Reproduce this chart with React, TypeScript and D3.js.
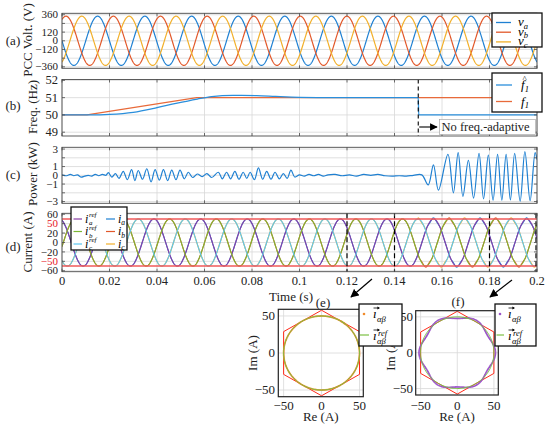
import React from "react";
import * as d3 from "d3";

const SERIF = '"Liberation Serif", "DejaVu Serif", serif';

// ---------------- time axis ----------------
const timeTicks = [0, 0.02, 0.04, 0.06, 0.08, 0.1, 0.12, 0.14, 0.16, 0.18, 0.2];
const timeTickLabels = ["0", "0.02", "0.04", "0.06", "0.08", "0.1", "0.12", "0.14", "0.16", "0.18", "0.2"];

// ---------------- (a) PCC voltage ----------------
const voltGrid = [-360, -240, -120, 0, 120, 240, 360];
const voltTicks = [360, 120, 0, -120, -360];
const voltTickLabels = ["360", "120", "0", "\u2212120", "\u2212360"];
const voltNames = ["a", "b", "c"];
const voltColors = ["#1f80d2", "#e2582a", "#f2b02b"];
const voltPhaseDeg = [90, -30, 210];
const voltAmplitude = [340, 340, 340];

// ---------------- (b) frequency ----------------
const freqTicks = [52, 51, 50, 49];
const freqTickLabels = ["52", "51", "50", "49"];
const f1Times = [0, 0.0105, 0.0567, 0.2];
const f1Values = [50, 50, 51, 51];
const fHatTimes = [0, 0.012, 0.02, 0.03, 0.04, 0.048, 0.057, 0.063, 0.072, 0.082, 0.09, 0.1, 0.115, 0.15, 0.1502, 0.2];
const fHatValues = [50, 50, 50.03, 50.15, 50.42, 50.67, 50.92, 51.06, 51.13, 51.12, 51.07, 51.02, 51.0, 51.0, 50.0, 50.0];
const freqSwitchTime = 0.15;
const fHatColor = "#2a8fdc";
const f1Color = "#e86a3a";

// ---------------- (c) power ----------------
const powerGrid = [-3, -2, -1, 0, 1, 2, 3];
const powerTicks = [3, 1, 0, -1, -3];
const powerTickLabels = ["3", "1", "0", "\u22121", "\u22123"];
const powerTimes = [
  0, 0.002, 0.0035, 0.005, 0.0065, 0.008, 0.0095, 0.011, 0.0125, 0.014, 0.0155, 0.017, 0.0185,
  0.0195, 0.021, 0.0225, 0.024, 0.0258, 0.0275, 0.0293, 0.0307, 0.0321, 0.0339, 0.0357, 0.0375,
  0.0392, 0.041, 0.0427, 0.0445, 0.0462, 0.048, 0.0497, 0.0515, 0.0532, 0.055,
  0.057, 0.059, 0.061, 0.063, 0.0658, 0.0675, 0.0693, 0.071, 0.0728, 0.0745, 0.0763, 0.0778,
  0.0792, 0.081, 0.0827, 0.0845, 0.0862, 0.088, 0.0897, 0.0915, 0.0932, 0.0948, 0.0964, 0.098,
  0.1, 0.102, 0.104, 0.106, 0.108, 0.11, 0.112, 0.115, 0.118, 0.121, 0.124, 0.127, 0.13, 0.133,
  0.136, 0.139, 0.142, 0.145, 0.148, 0.1515,
  0.1542, 0.1564, 0.1585, 0.1625, 0.1648, 0.1668, 0.1688, 0.1711, 0.1733, 0.1756, 0.1775, 0.1795,
  0.1815, 0.1834, 0.1852, 0.187, 0.1888, 0.1906, 0.1929, 0.1949, 0.1971, 0.1992, 0.2,
];
const powerValues = [
  0.05, -0.05, 0.1, -0.05, 0.05, -0.2, -0.1, 0.0, -0.1, 0.1, -0.05, 0.1, 0.0,
  0.3, -0.2, 0.2, -0.35, 0.45, -0.5, 0.65, -0.6, 0.55, -0.45, 0.75, -0.75,
  0.65, -0.55, 0.65, -0.6, 0.6, -0.5, 0.6, -0.4, 0.35, -0.25,
  0.15, -0.15, 0.2, -0.25, 0.35, -0.4, 0.35, -0.4, 0.45, -0.45, 0.35, -0.35,
  0.35, -0.5, 0.85, -0.45, 0.45, -0.45, 0.35, -0.4, 0.2, -0.35, 0.6, -0.2,
  0.05, -0.1, 0.1, -0.05, 0.1, -0.1, 0.05, 0.1, -0.05, 0.05, -0.1, 0.1, 0.0, 0.1,
  -0.05, -0.1, -0.05, -0.1, 0.0, 0.05,
  -1.1, 1.2, -1.7, 2.4, -2.0, 2.6, -2.4, 1.7, -2.6, 2.5, -2.7, 2.3,
  -2.85, 2.4, -2.85, 2.4, -2.8, 2.5, -2.95, 2.7, -2.9, 2.6, 1.8,
];
const powerColor = "#1f80d2";

// ---------------- (d) currents ----------------
const currentGrid = [-60, -40, -20, 0, 20, 40, 60];
const currentTickLabels = ["\u221260", "\u221250", "\u221220", "0", "20", "50", "60"];
const currentTickRed = [false, true, false, false, false, true, false];
const currentLimits = [50, -50];
const iRefNames = ["a", "b", "c"];
const iRefColors = ["#8a3ea6", "#7cb733", "#5cc6f0"];
const iActColors = ["#1f80d2", "#e2582a", "#f2b02b"];
const iRefPhaseDeg = 20;
const iRefAmplitude = 50;
const iRippleStart = 0.15;
const iRippleAmp = 2.2;
const iRippleHarmonic = 6;
const snapshotWindows = [[0.12, 0.14], [0.18, 0.2]];
const markerTimes = [0.12, 0.14, 0.18, 0.2];
const complexTicks = [-50, 0, 50];
const complexTickLabels = ["\u221250", "0", "50"];
const hexLimit = 50;

// ---------------- computations ----------------
const DT = 0.0001;
const tSamples = d3.range(0, Math.round(0.2 / DT) + 1).map((i) => i * DT);
const f1At = d3.scaleLinear().domain(f1Times).range(f1Values).clamp(true);
const theta: number[] = [];
{
  let acc = 0;
  tSamples.forEach((t, i) => {
    if (i > 0) acc += 2 * Math.PI * DT * (f1At(t - DT) + f1At(t)) / 2;
    theta.push(acc);
  });
}
const rad = (d: number) => (d * Math.PI) / 180;

const voltSeries = voltPhaseDeg.map((ph, k) =>
  tSamples.map((t, i) => [t, voltAmplitude[k] * Math.cos(theta[i] + rad(ph))] as [number, number])
);

const S3 = Math.sqrt(3) / 2;
const refAB = tSamples.map((t, i) => {
  const p = theta[i] + rad(iRefPhaseDeg);
  return { t, p, a: iRefAmplitude * Math.cos(p), b: iRefAmplitude * Math.sin(p) };
});
const actAB = refAB.map(({ t, p }) => {
  const r = iRefAmplitude + (t >= iRippleStart ? iRippleAmp * Math.cos(iRippleHarmonic * p) : 0);
  return { t, a: r * Math.cos(p), b: r * Math.sin(p) };
});
const toABC = (al: number, be: number) => [al, -al / 2 + S3 * be, -al / 2 - S3 * be];
const iRefSeries = [0, 1, 2].map((k) => refAB.map((d) => [d.t, toABC(d.a, d.b)[k]] as [number, number]));
const iActSeries = [0, 1, 2].map((k) => actAB.map((d) => [d.t, toABC(d.a, d.b)[k]] as [number, number]));

const inWin = (t: number, w: number[]) => t >= w[0] - 1e-9 && t <= w[1] + 1e-9;
const snapAct = snapshotWindows.map((w) => actAB.filter((d) => inWin(d.t, w)));
const snapRef = snapshotWindows.map((w) => refAB.filter((d) => inWin(d.t, w)));
const hexPts: [number, number][] = [0, 1, 2, 3, 4, 5].map((k) => {
  const ang = rad(30 + 60 * k);
  const R = hexLimit / Math.cos(rad(30));
  return [R * Math.cos(ang), R * Math.sin(ang)];
});

// ---------------- layout ----------------
const X0 = 62, X1 = 537;
const xS = d3.scaleLinear().domain([0, 0.2]).range([X0, X1]);
const panels = {
  a: { y0: 13.3, y1: 68.3, y: d3.scaleLinear().domain([-380, 380]).range([68.3, 13.3]) },
  b: { y0: 79.5, y1: 136, y: d3.scaleLinear().domain([48.78, 52.05]).range([136, 79.5]) },
  c: { y0: 147.3, y1: 203.3, y: d3.scaleLinear().domain([-3.2, 3.2]).range([203.3, 147.3]) },
  d: { y0: 213.3, y1: 271.7, y: d3.scaleLinear().domain([-62, 62]).range([271.7, 213.3]) },
};
const GRID = "#d8d8d8";
const AX = "#4a4a4a";
const serifStyle = { fontFamily: SERIF };

function PanelBase({ p, grid, id }: { p: any; grid: number[]; id: string }) {
  return (
    <g>
      <clipPath id={id}>
        <rect x={X0} y={p.y0} width={X1 - X0} height={p.y1 - p.y0} />
      </clipPath>
      <rect x={X0} y={p.y0} width={X1 - X0} height={p.y1 - p.y0} fill="#fff" />
      {timeTicks.map((t) => (
        <line key={"v" + t} x1={xS(t)} x2={xS(t)} y1={p.y0} y2={p.y1} stroke={GRID} strokeWidth={0.8} />
      ))}
      {grid.map((v) => (
        <line key={"h" + v} x1={X0} x2={X1} y1={p.y(v)} y2={p.y(v)} stroke={GRID} strokeWidth={0.8} />
      ))}
    </g>
  );
}

function PanelFrame({ p, grid }: { p: any; grid: number[] }) {
  return (
    <g>
      <rect x={X0} y={p.y0} width={X1 - X0} height={p.y1 - p.y0} fill="none" stroke={AX} strokeWidth={0.9} />
      {grid.map((v) => (
        <g key={v}>
          <line x1={X0} x2={X0 + 3} y1={p.y(v)} y2={p.y(v)} stroke={AX} strokeWidth={0.8} />
          <line x1={X1} x2={X1 - 3} y1={p.y(v)} y2={p.y(v)} stroke={AX} strokeWidth={0.8} />
        </g>
      ))}
      {timeTicks.map((t) => (
        <g key={"t" + t}>
          <line x1={xS(t)} x2={xS(t)} y1={p.y1} y2={p.y1 - 3} stroke={AX} strokeWidth={0.8} />
          <line x1={xS(t)} x2={xS(t)} y1={p.y0} y2={p.y0 + 3} stroke={AX} strokeWidth={0.8} />
        </g>
      ))}
    </g>
  );
}

function YLabels({ p, vals, labels, colors, size = 12.5 }: { p: any; vals: number[]; labels: string[]; colors?: string[]; size?: number }) {
  return (
    <g style={serifStyle} fontSize={size} textAnchor="end">
      {vals.map((v, i) => (
        <text key={i} x={58} y={p.y(v)} dy="0.33em" fill={colors ? colors[i] : "#222"}>
          {labels[i]}
        </text>
      ))}
    </g>
  );
}

function VecI({ x, y, sup, size = 13 }: { x: number; y: number; sup?: boolean; size?: number }) {
  return (
    <g style={serifStyle} fontStyle="italic">
      <text x={x} y={y} fontSize={size}>{"\u0131"}</text>
      <path d={`M${x + 0.5},${y - 10} L${x + 6},${y - 10}`} stroke="#000" strokeWidth={0.8} />
      <path d={`M${x + 7},${y - 10} l-2.6,-1.6 v3.2 z`} fill="#000" />
      <text x={x + 4} y={y + 3.5} fontSize={size * 0.66}>{"\u03b1\u03b2"}</text>
      {sup && <text x={x + 5} y={y - 4.5} fontSize={size * 0.66}>ref</text>}
    </g>
  );
}

function ComplexPanel({
  box, win, dotColor, idx, tickLabelX,
}: { box: any; win: number; dotColor: string; idx: number; tickLabelX: number }) {
  const xs = d3.scaleLinear().domain(box.xd).range([box.x0, box.x1]);
  const ys = d3.scaleLinear().domain(box.yd).range([box.y1, box.y0]);
  const circ = d3.line<any>().x((d) => xs(d.a)).y((d) => ys(d.b));
  const hex = d3.line<[number, number]>().x((d) => xs(d[0])).y((d) => ys(d[1]));
  const cid = "clipZ" + idx;
  return (
    <g>
      <clipPath id={cid}>
        <rect x={box.x0} y={box.y0} width={box.x1 - box.x0} height={box.y1 - box.y0} />
      </clipPath>
      <rect x={box.x0} y={box.y0} width={box.x1 - box.x0} height={box.y1 - box.y0} fill="#fff" />
      {complexTicks.map((v) => (
        <g key={v}>
          <line x1={xs(v)} x2={xs(v)} y1={box.y0} y2={box.y1} stroke={GRID} strokeWidth={0.8} />
          <line x1={box.x0} x2={box.x1} y1={ys(v)} y2={ys(v)} stroke={GRID} strokeWidth={0.8} />
        </g>
      ))}
      <g clipPath={`url(#${cid})`}>
        <path d={hex([...hexPts, hexPts[0]]) || ""} fill="none" stroke="#ff2a1a" strokeWidth={1} />
        {snapAct[win].map((d, i) => (
          <circle key={i} cx={xs(d.a)} cy={ys(d.b)} r={0.9} fill={dotColor} />
        ))}
        <path d={circ(snapRef[win]) || ""} fill="none" stroke="#7cc043" strokeWidth={1} />
      </g>
      <rect x={box.x0} y={box.y0} width={box.x1 - box.x0} height={box.y1 - box.y0} fill="none" stroke="#222" strokeWidth={1.2} />
      <g style={serifStyle} fontSize={13} fill="#222">
        {complexTicks.map((v, i) => (
          <text key={"x" + v} x={xs(v)} y={410} textAnchor="middle">{complexTickLabels[i]}</text>
        ))}
        {complexTicks.map((v, i) => (
          <text key={"y" + v} x={tickLabelX} y={ys(v)} dy="0.33em" textAnchor="end">{complexTickLabels[i]}</text>
        ))}
        <text x={(box.x0 + box.x1) / 2} y={421} textAnchor="middle">Re (A)</text>
        <text transform={`translate(${box.x0 - 21},${(box.y0 + box.y1) / 2}) rotate(-90)`} textAnchor="middle">Im (A)</text>
      </g>
    </g>
  );
}

export default function App() {
  const pa = panels.a, pb = panels.b, pc = panels.c, pd = panels.d;
  const lineA = d3.line<[number, number]>().x((d) => xS(d[0])).y((d) => pa.y(d[1]));
  const lineD = d3.line<[number, number]>().x((d) => xS(d[0])).y((d) => pd.y(d[1]));
  const lineF1 = d3.line<number>().x((_, i) => xS(f1Times[i])).y((d) => pb.y(d));
  const lineFH = d3.line<number>().x((_, i) => xS(fHatTimes[i])).y((d) => pb.y(d)).curve(d3.curveMonotoneX);
  const lineP = d3.line<number>().x((_, i) => xS(powerTimes[i])).y((d) => pc.y(d)).curve(d3.curveCatmullRom.alpha(0.5));

  const boxE = { x0: 278.3, x1: 363.3, y0: 309.3, y1: 396.7, xd: [-57, 55], yd: [-59, 59] };
  const boxF = { x0: 415.7, x1: 498.3, y0: 310.7, y1: 395, xd: [-56.7, 56], yd: [-59, 58.6] };

  return (
    <svg width={550} height={428} style={{ position: "absolute", left: 0, top: 0, background: "#fff", fontFamily: SERIF }}>
      <defs>
        <marker id="arr" viewBox="0 0 10 10" refX="9" refY="5" markerWidth="7" markerHeight="7" orient="auto-start-reverse">
          <path d="M0,0 L10,5 L0,10 z" fill="#000" />
        </marker>
      </defs>
      <rect width={550} height={428} fill="#fff" />

      {/* ---- (a) ---- */}
      <PanelBase p={pa} grid={voltGrid} id="clipA" />
      <g clipPath="url(#clipA)">
        {voltSeries.map((s, k) => (
          <path key={k} d={lineA(s) || ""} fill="none" stroke={voltColors[k]} strokeWidth={1.2} />
        ))}
      </g>
      <PanelFrame p={pa} grid={voltGrid} />
      <YLabels p={pa} vals={voltTicks} labels={voltTickLabels} size={11} />

      {/* ---- (b) ---- */}
      <PanelBase p={pb} grid={freqTicks} id="clipB" />
      <g clipPath="url(#clipB)">
        <path d={lineF1(f1Values) || ""} fill="none" stroke={f1Color} strokeWidth={1.3} />
        <path d={lineFH(fHatValues) || ""} fill="none" stroke={fHatColor} strokeWidth={1.3} />
        <line x1={xS(freqSwitchTime)} x2={xS(freqSwitchTime)} y1={pb.y0} y2={pb.y1} stroke="#000" strokeWidth={1.1} strokeDasharray="4,3" />
      </g>
      <PanelFrame p={pb} grid={freqTicks} />
      <YLabels p={pb} vals={freqTicks} labels={freqTickLabels} />
      <rect x={439.5} y={119.5} width={96} height={15} fill="#fff" stroke="#9a9a9a" strokeWidth={0.6} />
      <line x1={xS(freqSwitchTime) + 1} x2={437} y1={127} y2={127} stroke="#000" strokeWidth={1.1} markerEnd="url(#arr)" />
      <text x={441.5} y={131} style={serifStyle} fontSize={12.5} fill="#222">No freq.-adaptive</text>

      {/* ---- (c) ---- */}
      <PanelBase p={pc} grid={powerGrid} id="clipC" />
      <g clipPath="url(#clipC)">
        <path d={lineP(powerValues) || ""} fill="none" stroke={powerColor} strokeWidth={1.2} />
      </g>
      <PanelFrame p={pc} grid={powerGrid} />
      <YLabels p={pc} vals={powerTicks} labels={powerTickLabels} size={11} />

      {/* ---- (d) ---- */}
      <PanelBase p={pd} grid={currentGrid} id="clipD" />
      <g clipPath="url(#clipD)">
        {iActSeries.map((s, k) => (
          <path key={"act" + k} d={lineD(s) || ""} fill="none" stroke={iActColors[k]} strokeWidth={1.1} />
        ))}
        {iRefSeries.map((s, k) => (
          <path key={"ref" + k} d={lineD(s) || ""} fill="none" stroke={iRefColors[k]} strokeWidth={1.1} />
        ))}
        {currentLimits.map((v) => (
          <line key={v} x1={X0} x2={X1} y1={pd.y(v)} y2={pd.y(v)} stroke="#f05a5a" strokeWidth={1.6} />
        ))}
        {markerTimes.map((t) => (
          <line key={t} x1={xS(t) - (t >= 0.2 ? 1 : 0)} x2={xS(t) - (t >= 0.2 ? 1 : 0)} y1={pd.y0} y2={pd.y1} stroke="#000" strokeWidth={1.2} strokeDasharray="5,3" />
        ))}
      </g>
      <PanelFrame p={pd} grid={currentGrid} />
      <YLabels p={pd} vals={currentGrid} labels={currentTickLabels} colors={currentTickRed.map((r) => (r ? "#e8141e" : "#222"))} size={11} />
      <g style={serifStyle} fontSize={12.5} fill="#222" textAnchor="middle">
        {timeTicks.map((t, i) => (
          <text key={t} x={xS(t)} y={285}>{timeTickLabels[i]}</text>
        ))}
        <text x={291} y={301} fontSize={13}>Time (s)</text>
      </g>

      {/* axis titles and panel tags */}
      <g style={serifStyle} fontSize={13} fill="#222" textAnchor="middle">
        <text x={13} y={45}>(a)</text>
        <text x={13} y={110}>(b)</text>
        <text x={13} y={179}>(c)</text>
        <text x={13} y={251}>(d)</text>
        <text transform="translate(32,40) rotate(-90)">PCC Volt. (V)</text>
        <text transform="translate(37,107) rotate(-90)">Freq. (Hz)</text>
        <text transform="translate(37,174) rotate(-90)">Power (kW)</text>
        <text transform="translate(32,242) rotate(-90)">Current (A)</text>
        <text x={323} y={307}>(e)</text>
        <text x={458} y={306}>(f)</text>
      </g>

      {/* legends */}
      <g>
        <rect x={492} y={13} width={50} height={34} fill="#fff" stroke="#111" strokeWidth={1.3} />
        {voltNames.map((n, k) => (
          <g key={n}>
            <line x1={496} x2={511} y1={22.5 + k * 9.7} y2={22.5 + k * 9.7} stroke={voltColors[k]} strokeWidth={1.3} />
            <text x={518} y={26 + k * 9.7} style={serifStyle} fontStyle="italic" fontSize={13}>
              v<tspan fontSize={8.5} dy={2.5}>{n}</tspan>
            </text>
          </g>
        ))}
      </g>
      <g>
        <rect x={492} y={73} width={50} height={39} fill="#fff" stroke="#111" strokeWidth={1.3} />
        <line x1={496} x2={512} y1={85} y2={85} stroke={fHatColor} strokeWidth={1.3} />
        <line x1={496} x2={512} y1={101.5} y2={101.5} stroke={f1Color} strokeWidth={1.3} />
        <g style={serifStyle} fontStyle="italic" fontSize={13}>
          <text x={521} y={89}>f<tspan fontSize={8.5} dy={2.5}>1</tspan></text>
          <text x={522.5} y={82} fontSize={9} fontStyle="normal">^</text>
          <text x={521} y={105.5}>f<tspan fontSize={8.5} dy={2.5}>1</tspan></text>
        </g>
      </g>
      <g>
        <rect x={71} y={207} width={56} height={43} fill="#fff" stroke="#111" strokeWidth={1.3} />
        {iRefNames.map((n, k) => (
          <g key={n} style={serifStyle} fontStyle="italic">
            <line x1={73.5} x2={82} y1={219 + k * 12.5} y2={219 + k * 12.5} stroke={iRefColors[k]} strokeWidth={1.2} />
            <text x={85} y={222.5 + k * 12.5} fontSize={12}>i</text>
            <text x={89} y={225 + k * 12.5} fontSize={7}>{n}</text>
            <text x={89} y={217 + k * 12.5} fontSize={7}>ref</text>
            <line x1={106} x2={115} y1={219 + k * 12.5} y2={219 + k * 12.5} stroke={iActColors[k]} strokeWidth={1.2} />
            <text x={118} y={222.5 + k * 12.5} fontSize={12}>i<tspan fontSize={7.5} dy={2.5}>{n}</tspan></text>
          </g>
        ))}
      </g>

      {/* arrows to snapshots */}
      <line x1={372} y1={279} x2={351} y2={297} stroke="#000" strokeWidth={1.2} markerEnd="url(#arr)" />
      <line x1={512} y1={280} x2={490} y2={297} stroke="#000" strokeWidth={1.2} markerEnd="url(#arr)" />

      {/* (e) and (f) */}
      <ComplexPanel box={boxE} win={0} dotColor="#f08a2a" idx={0} tickLabelX={275} />
      <ComplexPanel box={boxF} win={1} dotColor="#9b55c8" idx={1} tickLabelX={413} />

      <g>
        <rect x={359} y={304} width={43} height={42} fill="#fff" stroke="#111" strokeWidth={1.3} />
        <circle cx={364} cy={314} r={1.3} fill="#f08a2a" />
        <VecI x={373} y={318} />
        <line x1={360} x2={369} y1={335} y2={335} stroke="#7cc043" strokeWidth={1.2} />
        <VecI x={373} y={340} sup />
      </g>
      <g>
        <rect x={495} y={304} width={41} height={42} fill="#fff" stroke="#111" strokeWidth={1.3} />
        <circle cx={500} cy={314} r={1.3} fill="#9b55c8" />
        <VecI x={508} y={318} />
        <line x1={496.5} x2={504} y1={335} y2={335} stroke="#7cc043" strokeWidth={1.2} />
        <VecI x={508} y={340} sup />
      </g>
    </svg>
  );
}
